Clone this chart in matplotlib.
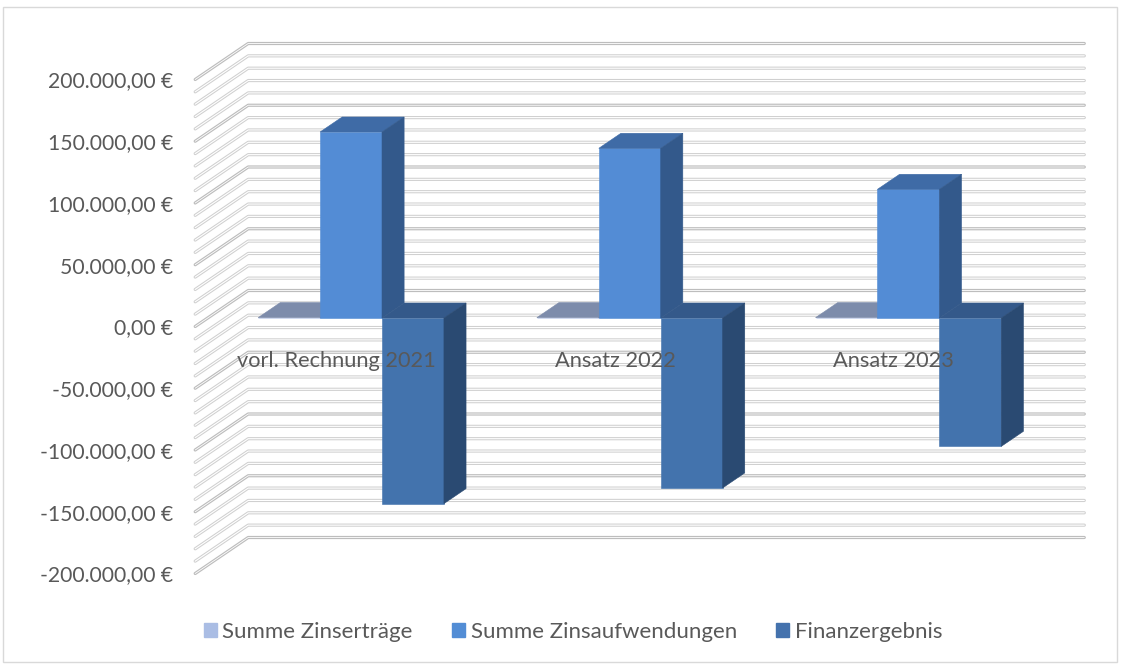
import numpy as np
import matplotlib.pyplot as plt
from matplotlib.patches import Polygon, Patch, Rectangle

plt.rcParams['font.family'] = ['Lato', 'DejaVu Sans']

categories = ["vorl. Rechnung 2021", "Ansatz 2022", "Ansatz 2023"]
series = ["Summe Zinserträge", "Summe Zinsaufwendungen", "Finanzergebnis"]
zinsertraege = [300, 300, 300]
zinsaufwendungen = [150600, 137400, 104200]
finanzergebnis = [-150300, -137600, -103900]
y_ticks = list(range(-200000, 200001, 50000))
minor_step = 10000

# colours per series: front, top, side
face_colors = [
    ("#a9bce3", "#7d8cab", "#6f7e9c"),
    ("#538cd5", "#3f6ba6", "#33598b"),
    ("#4373ad", "#34598a", "#2a4a72"),
]
legend_colors = ["#aabde4", "#538dd5", "#4472ad"]
text_color = "#595959"

W_PX, H_PX = 1121, 666
fig = plt.figure(figsize=(W_PX / 100, H_PX / 100), dpi=100)
ax = fig.add_axes([0, 0, 1, 1])

# plane of the bar fronts: category units in x, euro in y
x0_px, cat_px = 211.7, 278.7
y0_px, k_px = 318.0, 1.235e-3
ax.set_xlim(-x0_px / cat_px, (W_PX - x0_px) / cat_px)
ax.set_ylim(-(H_PX - y0_px) / k_px, y0_px / k_px)
ax.axis('off')


def shift(px_x, px_y):
    # screen pixel offset (y downwards) -> data offset
    return px_x / cat_px, -px_y / k_px


wx, wy = shift(53, -36)   # full depth of the walls
front, back = -0.236, 0.764
bar_depth = 0.417
n_cat = len(categories)
wall_left = shift(-4, 0)[0]

# gridlines on side wall and back wall
for v in range(y_ticks[0], y_ticks[-1] + 1, minor_step):
    major = v % 50000 == 0
    fx, fy = wall_left + front * wx, v + front * wy
    bx, by = wall_left + back * wx, v + back * wy
    xs = [fx, bx, bx + n_cat]
    ys = [fy, by, by]
    ax.plot(xs, ys, color="#bdbdbd" if major else "#d0d0d0", lw=2.3,
            solid_capstyle='round', solid_joinstyle='round', zorder=1)
    ax.plot(xs, ys, color="white", lw=0.6 if major else 0.8,
            solid_capstyle='round', zorder=1.1)

# 3d columns
w = 1 / (3 + 1.5)
dx, dy = bar_depth * wx, bar_depth * wy
all_values = [zinsertraege, zinsaufwendungen, finanzergebnis]
z = 2
for i in range(n_cat):
    for s, vals in enumerate(all_values):
        v = vals[i]
        c0 = i + 0.75 * w + s * w
        top, bot = max(v, 0), min(v, 0)
        fc, tc, sc = face_colors[s]
        faces = [
            ([(c0, bot), (c0 + w, bot), (c0 + w, top), (c0, top)], fc),
            ([(c0, top), (c0 + w, top), (c0 + w + dx, top + dy), (c0 + dx, top + dy)], tc),
            ([(c0 + w, bot), (c0 + w, top), (c0 + w + dx, top + dy), (c0 + w + dx, bot + dy)], sc),
        ]
        for pts, col in faces:
            ax.add_patch(Polygon(pts, closed=True, facecolor=col, edgecolor=col,
                                 lw=0.4, zorder=z))
        z += 1

# value axis labels at the front edge
for v in y_ticks:
    lab = f"{v:,.2f}".replace(",", "X").replace(".", ",").replace("X", ".") + " €"
    ax.annotate(lab, (wall_left + front * wx, v + front * wy), xytext=(-16, -1.5),
                textcoords='offset points', ha='right', va='center',
                fontsize=15.2, color=text_color)

# category labels
for i, cat in enumerate(categories):
    ax.annotate(cat, (i + 0.5 + front * wx, front * wy), xytext=(-1.5, -25),
                textcoords='offset points', ha='center', va='center',
                fontsize=15.7, color=text_color, zorder=50)

handles = [Patch(facecolor=c, edgecolor=c) for c in legend_colors]
fig.legend(handles, series, loc='center', bbox_to_anchor=(0.511, 0.051), ncol=3,
           frameon=False, handlelength=0.6, handleheight=0.6, handletextpad=0.25,
           columnspacing=1.75, fontsize=16, labelcolor=text_color)

fig.patches.append(Rectangle((3 / W_PX, 4 / H_PX), 1 - 7 / W_PX, 1 - 11 / H_PX,
                             transform=fig.transFigure, fill=False,
                             edgecolor="#d9d9d9", lw=1))

fig.savefig("out.png", dpi=100)
